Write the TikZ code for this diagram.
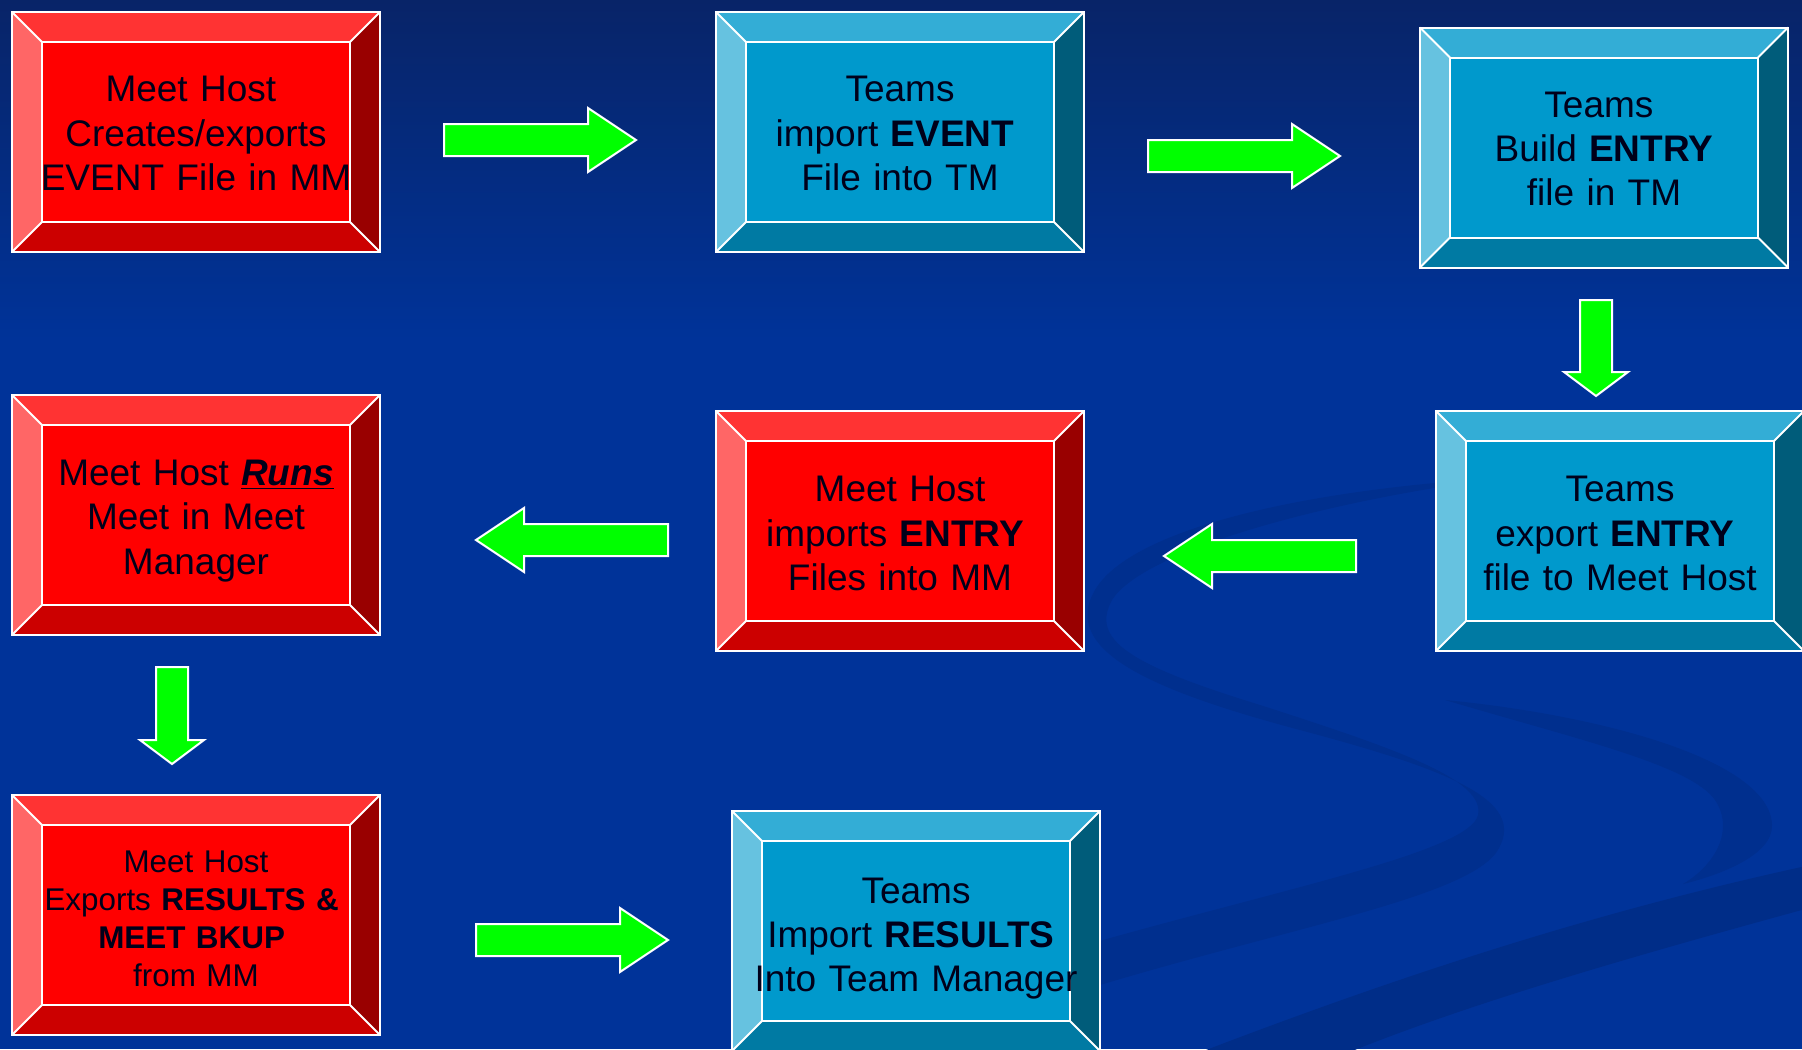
\documentclass[tikz,border=0pt]{standalone}
\usepackage{fontspec}
\setmainfont{Liberation Sans}
\usetikzlibrary{calc}
\pgfdeclarelayer{bg}
\pgfdeclarelayer{boxes}
\pgfsetlayers{bg,boxes,main}

\definecolor{bgtop}{HTML}{082468}
\definecolor{bgmain}{HTML}{003399}
\definecolor{swooshc}{HTML}{002F8E}
\definecolor{bandc}{HTML}{002D88}
\definecolor{textc}{HTML}{00001A}
\definecolor{arrowgreen}{HTML}{00FF00}
\definecolor{rcenter}{HTML}{FF0000}
\definecolor{rtop}{HTML}{FF3333}
\definecolor{rleft}{HTML}{FF6666}
\definecolor{rbottom}{HTML}{CC0000}
\definecolor{rright}{HTML}{990000}
\definecolor{bcenter}{HTML}{0099CC}
\definecolor{btop}{HTML}{33ADD6}
\definecolor{bleft}{HTML}{66C2E0}
\definecolor{bbottom}{HTML}{007AA3}
\definecolor{bright}{HTML}{005C7A}

\tikzset{
  box/.style={rectangle, inner sep=0pt, outer sep=0pt, minimum width=184pt,
    minimum height=120pt},
  label text/.style={inner sep=0pt, text width=184pt, align=center, text=textc,
    font=\fontsize{18.5pt}{22.2pt}\selectfont},
  smalltext/.style={font=\fontsize{15.7pt}{19pt}\selectfont},
  edge/.style={draw=white, line width=1pt},
  garrow/.style={fill=arrowgreen, draw=white, line width=1pt, line join=miter}
}
\newcommand\tsp{\kern.278em}

% #1 name, #2 centre, #3 top, #4 left, #5 bottom, #6 right
\newcommand\bevelbox[6]{%
\begin{pgfonlayer}{boxes}
\fill[#2] (#1.north west) rectangle (#1.south east);
\fill[#3] (#1.north west) -- (#1.north east) -- ($(#1.north east)+(-30,30)$) -- ($(#1.north west)+(30,30)$) -- cycle;
\fill[#4] (#1.north west) -- ($(#1.north west)+(30,30)$) -- ($(#1.south west)+(30,-30)$) -- (#1.south west) -- cycle;
\fill[#5] (#1.south west) -- ($(#1.south west)+(30,-30)$) -- ($(#1.south east)+(-30,-30)$) -- (#1.south east) -- cycle;
\fill[#6] (#1.north east) -- ($(#1.north east)+(-30,30)$) -- ($(#1.south east)+(-30,-30)$) -- (#1.south east) -- cycle;
\draw[edge] (#1.north west) rectangle (#1.south east);
\draw[edge] ($(#1.north west)+(30,30)$) rectangle ($(#1.south east)+(-30,-30)$);
\draw[edge] (#1.north west) -- ++(30,30) (#1.north east) -- ++(-30,30)
  (#1.south west) -- ++(30,-30) (#1.south east) -- ++(-30,-30);
\end{pgfonlayer}}

\newcommand\redbevel[1]{\bevelbox{#1}{rcenter}{rtop}{rleft}{rbottom}{rright}}
\newcommand\bluebevel[1]{\bevelbox{#1}{bcenter}{btop}{bleft}{bbottom}{bright}}

% #1 name, #2 tail, #3 angle, #4 length, #5 head length, #6 head half width
\newcommand\blockarrow[6]{%
\coordinate (#1) at #2;
\draw[garrow, shift={#2}, rotate=#3] (0,-16) -- (#4-#5,-16) -- (#4-#5,-#6) -- (#4,0)
  -- (#4-#5,#6) -- (#4-#5,16) -- (0,16) -- cycle;}

\begin{document}
\begin{tikzpicture}[x=0.5pt, y=-0.5pt]
\useasboundingbox (0,0) rectangle (1802,1049);

\begin{pgfonlayer}{bg}
\begin{scope}
\clip (0,0) rectangle (1802,1049);
\fill[bgmain] (0,0) rectangle (1802,1049);
\shade[top color=bgtop, bottom color=bgmain] (0,0) rectangle (1802,340);
% S-shaped swoosh
\fill[swooshc] (1500,478) .. controls (1300,490) and (1130,530) .. (1095,590)
  .. controls (1060,650) and (1150,690) .. (1300,730)
  .. controls (1450,770) and (1525,800) .. (1499,848)
  .. controls (1475,895) and (1300,925) .. (1100,985) -- (1000,1015) -- (1000,975)
  -- (1103,940) .. controls (1300,885) and (1470,850) .. (1478,815)
  .. controls (1485,780) and (1400,750) .. (1260,705)
  .. controls (1130,665) and (1090,640) .. (1112,600)
  .. controls (1140,555) and (1300,505) .. (1500,478) -- cycle;
% second crescent
\fill[swooshc] (1445,700) .. controls (1600,715) and (1770,760) .. (1772,825)
  .. controls (1773,855) and (1720,875) .. (1683,884)
  .. controls (1715,865) and (1735,830) .. (1715,800)
  .. controls (1690,765) and (1580,740) .. (1445,700) -- cycle;
% diagonal band
\fill[bandc] (1180,1060) .. controls (1400,975) and (1600,910) .. (1820,863) -- (1820,905)
  .. controls (1600,965) and (1450,1010) .. (1330,1060) -- cycle;
\end{scope}
\end{pgfonlayer}

% boxes
\node[box] (b1) at (196,132) {};
\node[box] (b2) at (900,132) {};
\node[box] (b3) at (1604,147.5) {};
\node[box] (b4) at (1620,531) {};
\node[box] (b5) at (900,531) {};
\node[box] (b6) at (196,515) {};
\node[box] (b7) at (196,915) {};
\node[box] (b8) at (916,931) {};

\redbevel{b1}
\bluebevel{b2}
\bluebevel{b3}
\bluebevel{b4}
\redbevel{b5}
\redbevel{b6}
\redbevel{b7}
\bluebevel{b8}

% texts
\node[label text] (t1) at (196,133.5) {Meet Host\tsp\\Creates/exports\\EVENT File in MM};
\node[label text] (t2) at (900,133.5) {Teams\\import \textbf{EVENT}\tsp\\File into TM};
\node[label text] (t3) at (1604,149) {Teams\tsp\\Build \textbf{ENTRY}\\file in TM};
\node[label text] (t4) at (1620,533.5) {Teams\\export \textbf{ENTRY}\tsp\\file to Meet Host};
\node[label text] (t5) at (900,533.5) {Meet Host\\imports \textbf{ENTRY}\tsp\\Files into MM};
\node[label text] (t6) at (196,521) {Meet Host \underline{\textbf{\textit{Runs}}}\\Meet in Meet\\Manager};
\node[label text, smalltext] (t7) at (196,918.5) {Meet Host\\Exports \textbf{RESULTS \&}\tsp\\\textbf{MEET BKUP}\tsp\\from MM};
\node[label text] (t8) at (916,938.5) {Teams\\Import \textbf{RESULTS}\tsp\\Into Team Manager};

% arrows
\blockarrow{a1}{(444,140)}{0}{192}{48}{32}
\blockarrow{a2}{(1148,156)}{0}{192}{48}{32}
\blockarrow{a3}{(1596,300)}{-90}{96}{24}{32}
\blockarrow{a4}{(1356,556)}{180}{192}{48}{32}
\blockarrow{a5}{(668,540)}{180}{192}{48}{32}
\blockarrow{a6}{(172,667)}{-90}{97}{24}{32}
\blockarrow{a7}{(476,940)}{0}{192}{48}{32}
\end{tikzpicture}
\end{document}
